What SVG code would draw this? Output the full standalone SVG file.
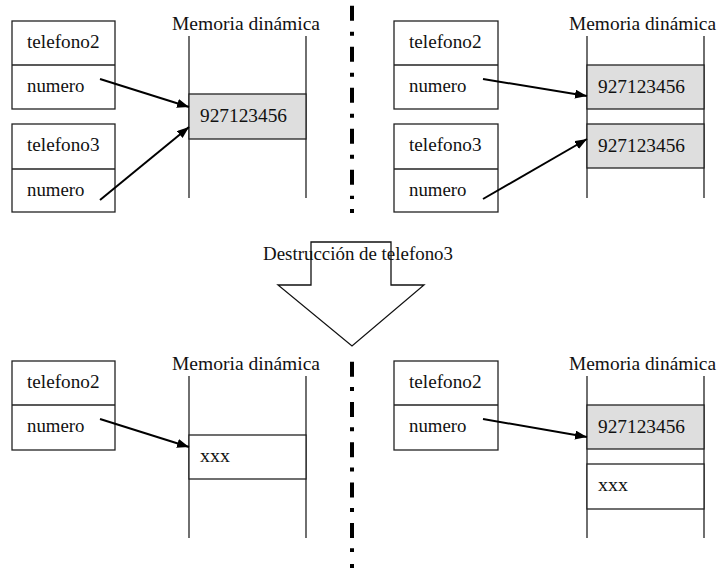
<svg xmlns="http://www.w3.org/2000/svg" width="720" height="569" viewBox="0 0 720 569">
<style>
text{font-family:"Liberation Serif","Times New Roman",serif;font-size:19px;fill:#111}
.box{fill:#fff;stroke:#222;stroke-width:1.3}
.div{stroke:#222;stroke-width:1.3}
.col{stroke:#222;stroke-width:1.3}
.cell{fill:#fff;stroke:#222;stroke-width:1.3}
.gray{fill:#dedede;stroke:#222;stroke-width:1.3}
.arr{stroke:#000;stroke-width:2;fill:none;marker-end:url(#ah)}
.sep{stroke:#000;stroke-width:4;fill:none}
.big{fill:#fff;stroke:#111;stroke-width:1.3}
</style>
<defs>
<marker id="ah" markerUnits="userSpaceOnUse" markerWidth="13" markerHeight="10" refX="12" refY="4.5" orient="auto">
<path d="M0,0 L12,4.5 L0,9 z" fill="#000"/>
</marker>
</defs>

<!-- separators -->
<g id="separators">
<line class="sep" x1="352" y1="5.7" x2="352" y2="199" stroke-dasharray="15 11 4 11"/>
<rect x="350" y="209" width="4" height="4" fill="#000"/>
<line class="sep" x1="352" y1="361.7" x2="352" y2="552" stroke-dasharray="15 10.3 4 11"/>
<rect x="350" y="564" width="4" height="4" fill="#000"/>
</g>

<!-- top-left panel -->
<g id="tl-telefono2">
<rect class="box" x="12" y="21" width="103" height="88"/>
<line class="div" x1="12" y1="65" x2="115" y2="65"/>
<text x="27" y="48" textLength="72.5" lengthAdjust="spacingAndGlyphs">telefono2</text>
<text x="27" y="92" textLength="57.5" lengthAdjust="spacingAndGlyphs">numero</text>
</g>
<g id="tl-telefono3">
<rect class="box" x="12" y="124" width="103" height="88"/>
<line class="div" x1="12" y1="169" x2="115" y2="169"/>
<text x="27" y="151" textLength="72.5" lengthAdjust="spacingAndGlyphs">telefono3</text>
<text x="27" y="196" textLength="57.5" lengthAdjust="spacingAndGlyphs">numero</text>
</g>
<g id="tl-memoria">
<text x="172" y="30" textLength="148" lengthAdjust="spacingAndGlyphs">Memoria dinámica</text>
<line class="col" x1="189" y1="36" x2="189" y2="198"/>
<line class="col" x1="306" y1="36" x2="306" y2="198"/>
<rect class="gray" x="189" y="94" width="117" height="45"/>
<text x="200" y="122" textLength="87" lengthAdjust="spacingAndGlyphs">927123456</text>
</g>

<!-- top-right panel -->
<g id="tr-telefono2">
<rect class="box" x="394" y="21" width="104" height="88"/>
<line class="div" x1="394" y1="65" x2="498" y2="65"/>
<text x="409" y="48" textLength="72.5" lengthAdjust="spacingAndGlyphs">telefono2</text>
<text x="409" y="92" textLength="57.5" lengthAdjust="spacingAndGlyphs">numero</text>
</g>
<g id="tr-telefono3">
<rect class="box" x="394" y="124" width="104" height="88"/>
<line class="div" x1="394" y1="169" x2="498" y2="169"/>
<text x="409" y="151" textLength="72.5" lengthAdjust="spacingAndGlyphs">telefono3</text>
<text x="409" y="196" textLength="57.5" lengthAdjust="spacingAndGlyphs">numero</text>
</g>
<g id="tr-memoria">
<text x="569" y="30" textLength="147" lengthAdjust="spacingAndGlyphs">Memoria dinámica</text>
<line class="col" x1="587" y1="36" x2="587" y2="198"/>
<line class="col" x1="704" y1="36" x2="704" y2="198"/>
<rect class="gray" x="587" y="65" width="117" height="44"/>
<text x="598" y="93" textLength="87" lengthAdjust="spacingAndGlyphs">927123456</text>
<rect class="gray" x="587" y="124" width="117" height="44"/>
<text x="598" y="152" textLength="87" lengthAdjust="spacingAndGlyphs">927123456</text>
</g>

<!-- transition arrow -->
<g id="destruccion">
<polygon class="big" points="311,242 391,242 391,285 424,285 352,346 278,285 311,285"/>
<text x="263" y="260" textLength="190" lengthAdjust="spacingAndGlyphs">Destrucción de telefono3</text>
</g>

<!-- bottom-left panel -->
<g id="bl-telefono2">
<rect class="box" x="12" y="361" width="103" height="89"/>
<line class="div" x1="12" y1="405" x2="115" y2="405"/>
<text x="27" y="388" textLength="72.5" lengthAdjust="spacingAndGlyphs">telefono2</text>
<text x="27" y="432" textLength="57.5" lengthAdjust="spacingAndGlyphs">numero</text>
</g>
<g id="bl-memoria">
<text x="172" y="370" textLength="148" lengthAdjust="spacingAndGlyphs">Memoria dinámica</text>
<line class="col" x1="189" y1="376" x2="189" y2="538"/>
<line class="col" x1="306" y1="376" x2="306" y2="538"/>
<rect class="cell" x="189" y="435" width="117" height="44"/>
<text x="200" y="462" textLength="30" lengthAdjust="spacingAndGlyphs">xxx</text>
</g>

<!-- bottom-right panel -->
<g id="br-telefono2">
<rect class="box" x="394" y="361" width="104" height="89"/>
<line class="div" x1="394" y1="405" x2="498" y2="405"/>
<text x="409" y="388" textLength="72.5" lengthAdjust="spacingAndGlyphs">telefono2</text>
<text x="409" y="432" textLength="57.5" lengthAdjust="spacingAndGlyphs">numero</text>
</g>
<g id="br-memoria">
<text x="569" y="370" textLength="147" lengthAdjust="spacingAndGlyphs">Memoria dinámica</text>
<line class="col" x1="587" y1="376" x2="587" y2="538"/>
<line class="col" x1="704" y1="376" x2="704" y2="538"/>
<rect class="gray" x="587" y="405" width="117" height="44"/>
<text x="598" y="433" textLength="87" lengthAdjust="spacingAndGlyphs">927123456</text>
<rect class="cell" x="587" y="464" width="117" height="45"/>
<text x="598" y="491" textLength="30" lengthAdjust="spacingAndGlyphs">xxx</text>
</g>

<!-- connectors -->
<g id="connectors">
<line class="arr" x1="100" y1="79" x2="189" y2="107"/>
<line class="arr" x1="100" y1="200" x2="189" y2="127"/>
<line class="arr" x1="483" y1="79" x2="587" y2="96"/>
<line class="arr" x1="483" y1="199" x2="587" y2="139"/>
<line class="arr" x1="100" y1="419" x2="189" y2="447"/>
<line class="arr" x1="483" y1="419" x2="587" y2="437"/>
</g>
</svg>
